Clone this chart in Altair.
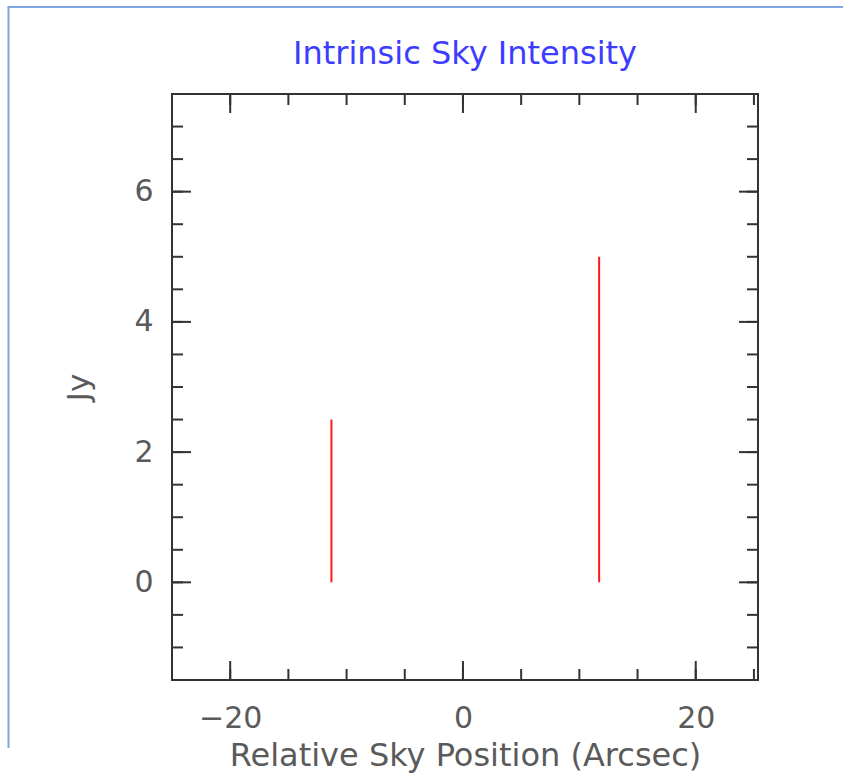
import altair as alt
import pandas as pd

# Source positions (arcsec) and intrinsic intensities (Jy)
positions = [-11.3, 11.7]
intensities = [2.5, 5.0]

# Axis frame ticks
x_minor = [-25, -20, -15, -10, -5, 0, 5, 10, 15, 20, 25]
x_major = [-20, 0, 20]
y_minor = [-1.5, -1.0, -0.5, 0.0, 0.5, 1.0, 1.5, 2.0, 2.5, 3.0, 3.5, 4.0, 4.5,
           5.0, 5.5, 6.0, 6.5, 7.0, 7.5]
y_major = [0, 2, 4, 6]

x_domain = [-25, 25.35]
y_domain = [-1.5, 7.5]

W, H = 586, 586
FONT = "DejaVu Sans"
GRAY = "#5a5a5a"
FRAME = "#333333"

xs = alt.Scale(domain=x_domain, nice=False, zero=False)
ys = alt.Scale(domain=y_domain, nice=False, zero=False)

sources = pd.DataFrame({"x": positions, "y0": [0.0] * len(positions), "y": intensities})

# Spikes of intensity, with the labelled axes
spikes = alt.Chart(sources).mark_rule(color="#ff1a1a", strokeWidth=2).encode(
    x=alt.X("x:Q", scale=xs,
            axis=alt.Axis(values=x_major, format="d", ticks=False, tickSize=0, domain=False,
                          grid=False, labelFontSize=30, labelFont=FONT, labelColor=GRAY,
                          labelBaseline="alphabetic", labelPadding=47,
                          title="Relative Sky Position (Arcsec)", titleFontSize=32,
                          titleFont=FONT, titleFontWeight="normal", titleColor=GRAY,
                          titleBaseline="alphabetic", titleY=85, titleX=W / 2)),
    y=alt.Y("y0:Q", scale=ys,
            axis=alt.Axis(values=y_major, format="d", ticks=False, tickSize=0, domain=False,
                          grid=False, labelFontSize=30, labelFont=FONT, labelColor=GRAY,
                          labelPadding=19,
                          title="Jy", titleFontSize=31, titleFont=FONT,
                          titleFontWeight="normal", titleColor=GRAY,
                          titleBaseline="alphabetic", titleX=-84, titleY=H / 2)),
    y2="y:Q",
)

MINOR, MAJOR = 11, 19


def x_ticks(vals, length):
    df = pd.DataFrame({"v": vals})
    base = alt.Chart(df).mark_rule(color=FRAME, strokeWidth=2)
    bottom = base.encode(x=alt.X("v:Q", scale=xs), y=alt.value(H), y2=alt.value(H - length))
    top = base.encode(x=alt.X("v:Q", scale=xs), y=alt.value(0), y2=alt.value(length))
    return [bottom, top]


def y_ticks(vals, length):
    df = pd.DataFrame({"v": vals})
    base = alt.Chart(df).mark_rule(color=FRAME, strokeWidth=2)
    left = base.encode(y=alt.Y("v:Q", scale=ys), x=alt.value(0), x2=alt.value(length))
    right = base.encode(y=alt.Y("v:Q", scale=ys), x=alt.value(W), x2=alt.value(W - length))
    return [left, right]


ticks = (x_ticks(x_minor, MINOR) + x_ticks(x_major, MAJOR)
         + y_ticks(y_minor, MINOR) + y_ticks(y_major, MAJOR))

# Light blue page border along the left and top
border_left = alt.Chart(pd.DataFrame({"a": [0]})).mark_rule(color="#7fa6de", strokeWidth=2).encode(
    x=alt.value(-163.5), y=alt.value(-87), y2=alt.value(654))
border_top = alt.Chart(pd.DataFrame({"a": [0]})).mark_rule(color="#7fa6de", strokeWidth=2).encode(
    y=alt.value(-87), x=alt.value(-164.5), x2=alt.value(680))

chart = alt.layer(spikes, *ticks, border_left, border_top).properties(
    width=W, height=H,
    title=alt.TitleParams("Intrinsic Sky Intensity", font=FONT, fontSize=32,
                          fontWeight="normal", color="#3c3cff", anchor="middle",
                          baseline="alphabetic", offset=0, dy=90),
    autosize=alt.AutoSizeParams(type="none"),
    padding={"left": 172, "top": 94, "right": 85, "bottom": 94},
    background="white",
).configure_view(stroke=FRAME, strokeWidth=2)

chart.save("out.html", embed_options={"renderer": "svg", "actions": False})
